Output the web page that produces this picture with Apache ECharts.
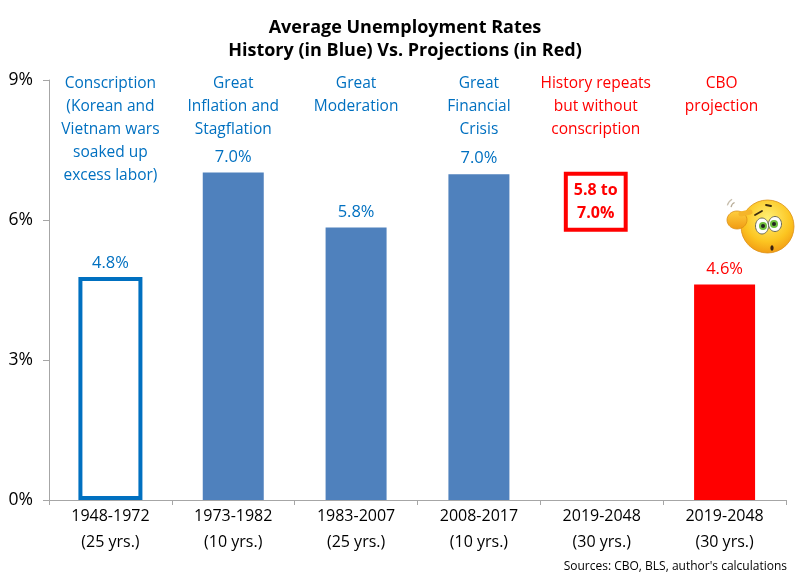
<!DOCTYPE html>
<html><head><meta charset="utf-8">
<style>html,body{margin:0;padding:0;background:#fff}#c{width:800px;height:580px}</style>
<script src="https://cdn.jsdelivr.net/npm/echarts@6/dist/echarts.min.js"></script>
</head><body><div id="c"></div>
<script>
const categories = ['1948-1972\n(25 yrs.)','1973-1982\n(10 yrs.)','1983-2007\n(25 yrs.)','2008-2017\n(10 yrs.)','2019-2048\n(30 yrs.)','2019-2048\n(30 yrs.)'];
const filledValues = [null, 7.02, 5.84, 6.98, null, 4.62];
const outlinedValues = [4.78, null, null, null, null, null];
const valueLabels = ['4.8%','7.0%','5.8%','7.0%','','4.6%'];
const eras = ['Conscription\n(Korean and\nVietnam wars\nsoaked up\nexcess labor)','Great\nInflation and\nStagflation','Great\nModeration','Great\nFinancial\nCrisis','History repeats\nbut without\nconscription','CBO\nprojection'];
const eraOffsets = [0,0,0,0,-6,-3];
const eraColors = ['#0070c0','#0070c0','#0070c0','#0070c0','#ff0000','#ff0000'];
const barColors = [null,'#4f81bd','#4f81bd','#4f81bd',null,'#ff0000'];
const rangeLabel = '5.8 to\n7.0%';
const rangeValue = 6.39;
const ticks = [0,3,6,9];
const font = 'Open Sans';
const axisGrey = '#a6a6a6';
const chart = echarts.init(document.getElementById('c'),null,{renderer:'canvas'});
const valueLabel = i => ({show:true,position:'top',distance:i===0?5:7,formatter:valueLabels[i],color:eraColors[i],fontFamily:font,fontSize:16.5});
chart.setOption({
 animation:false,
 title:{text:'Average Unemployment Rates\nHistory (in Blue) Vs. Projections (in Red)',left:400,top:11,textAlign:'center',
  textStyle:{fontFamily:font,fontSize:18,fontWeight:'bold',color:'#000',lineHeight:23}},
 grid:{left:49,right:14,top:80,bottom:80},
 xAxis:[{type:'category',data:categories,
  axisLine:{lineStyle:{color:axisGrey}},axisTick:{show:true,length:5,lineStyle:{color:axisGrey}},
  axisLabel:{fontFamily:font,fontSize:16,color:'#000',lineHeight:25.5,margin:4,interval:0}},
  {type:'category',data:categories,show:false}],
 yAxis:{type:'value',min:0,max:9,interval:3,
  axisLine:{show:true,lineStyle:{color:axisGrey}},axisTick:{show:true,length:6,lineStyle:{color:axisGrey}},
  splitLine:{show:false},
  axisLabel:{fontFamily:font,fontSize:17.5,color:'#000',margin:16,formatter:v=>ticks.includes(v)?v+'%':''}},
 series:[
 {type:'bar',xAxisIndex:1,barWidth:64,z:3,
  data:outlinedValues.map((v,i)=>({value:v,itemStyle:{color:'#fff',borderColor:'#0070c0',borderWidth:4},label:v==null?{show:false}:valueLabel(i)}))},
 {type:'bar',barWidth:61,
  data:filledValues.map((v,i)=>({value:v,itemStyle:{color:barColors[i]||'#fff'},label:v==null?{show:false}:valueLabel(i)})),
  markPoint:{symbol:'rect',symbolSize:1,silent:true,itemStyle:{color:'transparent'},
   data:eras.map((t,i)=>({coord:[i,9],label:{show:true,position:'bottom',distance:0,offset:[eraOffsets[i],-8],formatter:t,color:eraColors[i],fontFamily:font,fontSize:15.5,lineHeight:22.8,align:'center',verticalAlign:'top'}}))
    .concat([{coord:[4,rangeValue],label:{show:true,position:'inside',offset:[-6,0],formatter:rangeLabel,color:'#ff0000',fontFamily:font,fontSize:16,fontWeight:'bold',lineHeight:23,align:'center',verticalAlign:'middle',backgroundColor:'#fff',borderColor:'#ff0000',borderWidth:4,padding:[3,6,3,6]}}])
  }
 }],
 graphic:[
  {type:'text',right:13,top:561,style:{text:"Sources: CBO, BLS, author's calculations",fontFamily:font,fontSize:12,fill:'#000'}},
  {type:'group',x:0,y:0,silent:true,children:[
   {type:'arc',shape:{cx:737,cy:208,r:6,startAngle:3.3,endAngle:4.3},style:{stroke:'#b8ad98',lineWidth:1.3,fill:null}},
   {type:'arc',shape:{cx:737,cy:208,r:10,startAngle:3.4,endAngle:4.2},style:{stroke:'#c8bfae',lineWidth:1.3,fill:null}},
   {type:'circle',shape:{cx:767.5,cy:226.5,r:26.5},style:{fill:new echarts.graphic.RadialGradient(0.5,0.35,0.72,[{offset:0,color:'#fff176'},{offset:0.6,color:'#fcc521'},{offset:1,color:'#ee8f10'}]),stroke:'#dc8f14',lineWidth:0.8}},
   {type:'ellipse',shape:{cx:737,cy:220,rx:10,ry:9},style:{fill:new echarts.graphic.LinearGradient(0,0,0,1,[{offset:0,color:'#ffd040'},{offset:1,color:'#f09a12'}]),stroke:'#dc8f14',lineWidth:0.8}},
   {type:'line',shape:{x1:741,y1:214,x2:750,y2:212},style:{stroke:'#f5b52a',lineWidth:5,lineCap:'round'}},
   {type:'ellipse',shape:{cx:762,cy:226,rx:6.5,ry:8},style:{fill:'#fff',stroke:'#6b6b5a',lineWidth:1}},
   {type:'ellipse',shape:{cx:775,cy:224,rx:6.5,ry:7.5},style:{fill:'#fff',stroke:'#6b6b5a',lineWidth:1}},
   {type:'circle',shape:{cx:763,cy:226,r:4},style:{fill:'#6fbf3f'}},
   {type:'circle',shape:{cx:774,cy:224,r:4},style:{fill:'#6fbf3f'}},
   {type:'circle',shape:{cx:763,cy:226,r:2},style:{fill:'#222'}},
   {type:'circle',shape:{cx:774,cy:224,r:2},style:{fill:'#222'}},
   {type:'line',shape:{x1:755,y1:215,x2:762,y2:211},style:{stroke:'#3a2a10',lineWidth:1.8,lineCap:'round'}},
   {type:'line',shape:{x1:766,y1:205,x2:771,y2:206},style:{stroke:'#3a2a10',lineWidth:1.8,lineCap:'round'}},
   {type:'ellipse',shape:{cx:772,cy:248,rx:1.6,ry:2.8},style:{fill:'#3a2010'}}
  ]}
 ]
});
</script></body></html>
